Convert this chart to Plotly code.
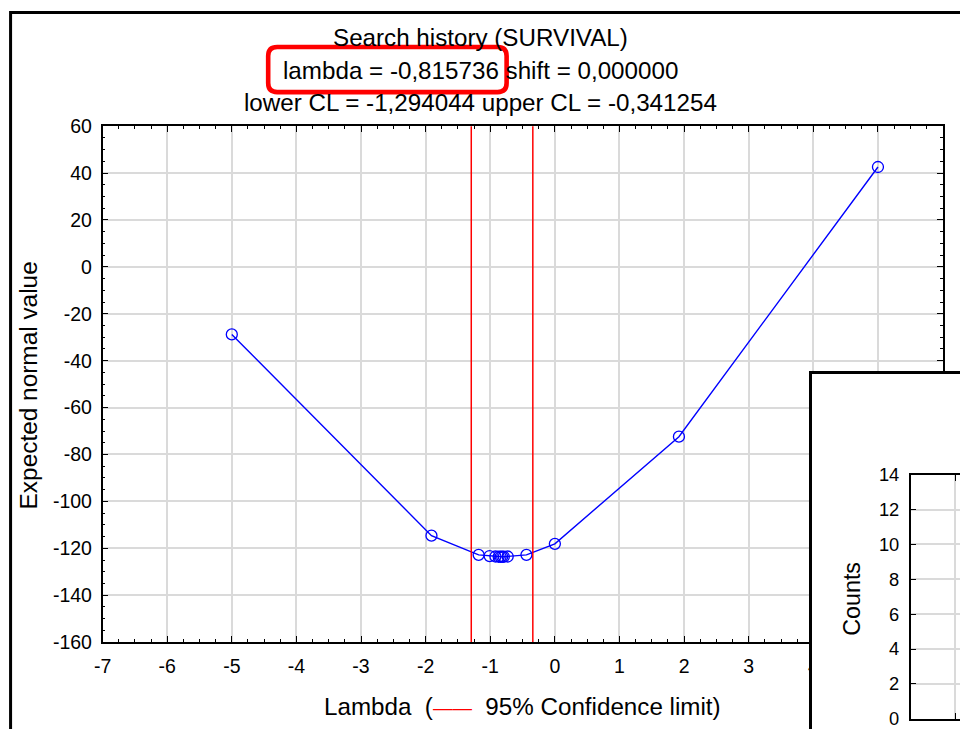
import plotly.graph_objects as go

# ---- data ----
lambdas = [-5.0, -1.91, -1.18, -1.01, -0.92, -0.87, -0.84, -0.815736, -0.79, -0.73, -0.44, 0.0, 1.92, 5.0]
expected_normal = [-28.8, -114.6, -122.8, -123.3, -123.5, -123.6, -123.6, -123.6, -123.6, -123.5, -122.8, -118.1, -72.4, 42.6]
lower_cl = -1.294044
upper_cl = -0.341254
title_lines = ["Search history (SURVIVAL)",
               "lambda = -0,815736 shift = 0,000000",
               "lower CL = -1,294044 upper CL = -0,341254"]
x_ticks = list(range(-7, 7))
y_ticks = list(range(-160, 61, 20))
inset_ticks = list(range(0, 15, 2))

# figure size and screen-to-figure compensation
FW, FH = 975, 750
SX, SY, AX, AY = 0.988, 0.969, 8.2, 11.0
FONT = "Liberation Sans, Arial, sans-serif"


def PX(X):
    return (X - AX) / SX / FW


def PY(Y):
    return 1 - (Y - AY) / SY / FH


fig = go.Figure()

fig.add_trace(go.Scatter(
    x=lambdas, y=expected_normal, mode="lines+markers",
    line=dict(color="#0000ff", width=1.4),
    marker=dict(symbol="circle-open", size=11, color="#0000ff", line=dict(width=1.3)),
    xaxis="x", yaxis="y", showlegend=False, hoverinfo="x+y"))

# blank window (inset frame)
fig.add_trace(go.Scatter(x=[], y=[], xaxis="x2", yaxis="y2", showlegend=False))
# inset plot
fig.add_trace(go.Scatter(x=[], y=[], xaxis="x3", yaxis="y3", showlegend=False))

axis_common = dict(showline=True, linecolor="black", linewidth=1.5, mirror="allticks",
                   ticks="inside", tickcolor="black", ticklen=6, tickwidth=1.3,
                   gridcolor="#dadada", gridwidth=1.6, zeroline=False)

fig.update_layout(
    width=FW, height=FH,
    margin=dict(l=0, r=0, t=0, b=0),
    paper_bgcolor="white", plot_bgcolor="white",
    showlegend=False,
    xaxis=dict(domain=[PX(102), PX(944)], anchor="y", range=[-7, 6],
               tickvals=x_ticks, ticktext=[str(v) for v in x_ticks],
               minor=dict(ticks="inside", ticklen=3, dtick=0.25, tickcolor="black", showgrid=False),
               ticklabelstandoff=6, tickfont=dict(family=FONT, size=19.5, color="black"),
               **axis_common),
    yaxis=dict(domain=[PY(641), PY(126)], anchor="x", range=[-160, 60],
               tickvals=y_ticks, ticktext=[str(v) for v in y_ticks],
               minor=dict(ticks="inside", ticklen=3, dtick=5, tickcolor="black", showgrid=False),
               ticklabelstandoff=5, tickfont=dict(family=FONT, size=19.5, color="black"),
               **axis_common),
    xaxis2=dict(domain=[PX(813), 1], anchor="y2", range=[0, 1], side="top",
                showline=True, linecolor="black", linewidth=3, mirror=False,
                showgrid=False, zeroline=False, showticklabels=False, ticks=""),
    yaxis2=dict(domain=[0, PY(373)], anchor="x2", range=[0, 1], side="left",
                showline=True, linecolor="black", linewidth=3, mirror=False,
                showgrid=False, zeroline=False, showticklabels=False, ticks=""),
    xaxis3=dict(domain=[PX(912), 1], anchor="y3", range=[0, 1],
                tickvals=[0.754], showticklabels=False, **axis_common),
    yaxis3=dict(domain=[PY(717.5), PY(474)], anchor="x3", range=[0, 14],
                tickvals=inset_ticks, ticktext=[str(v) for v in inset_ticks],
                ticklabelstandoff=6, tickfont=dict(family=FONT, size=18.3, color="black"),
                **axis_common),
)

# confidence limit lines
for v in (lower_cl, upper_cl):
    fig.add_shape(type="line", xref="x", yref="y domain", x0=v, x1=v, y0=0, y1=1,
                  line=dict(color="#ff0000", width=1.5))

# outer window border
fig.add_shape(type="rect", xref="paper", yref="paper",
              x0=1.6 / FW, x1=1.2, y0=-0.2, y1=1 - 1.6 / FH, line=dict(color="black", width=3),
              fillcolor="rgba(0,0,0,0)", layer="below")

# red rounded highlight box
x0, x1, y0, y1, r = 268, 507, 47, 92, 9
path = (f"M {PX(x0 + r)},{PY(y0)} H {PX(x1 - r)} Q {PX(x1)},{PY(y0)} {PX(x1)},{PY(y0 + r)} "
        f"V {PY(y1 - r)} Q {PX(x1)},{PY(y1)} {PX(x1 - r)},{PY(y1)} "
        f"H {PX(x0 + r)} Q {PX(x0)},{PY(y1)} {PX(x0)},{PY(y1 - r)} "
        f"V {PY(y0 + r)} Q {PX(x0)},{PY(y0)} {PX(x0 + r)},{PY(y0)} Z")
fig.add_shape(type="path", xref="paper", yref="paper", path=path,
              line=dict(color="#ff0000", width=4.6), layer="above")

# title lines
for txt, yc in zip(title_lines, (37, 70, 102)):
    fig.add_annotation(text=txt, xref="paper", yref="paper", x=PX(481), y=PY(yc),
                       showarrow=False, xanchor="center", yanchor="middle",
                       font=dict(family=FONT, size=24.2, color="black"))

# axis titles
fig.add_annotation(
    text="Lambda  (<span style='color:#ff0000;font-size:19.5px'>——</span>  95% Confidence limit)",
    xref="paper", yref="paper", x=PX(523), y=PY(705), showarrow=False,
    xanchor="center", yanchor="middle", font=dict(family=FONT, size=24.2, color="black"))
fig.add_annotation(text="Expected normal value", xref="paper", yref="paper", x=PX(28), y=PY(385),
                   showarrow=False, textangle=-90, xanchor="center", yanchor="middle",
                   font=dict(family=FONT, size=24.4, color="black"))
fig.add_annotation(text="Counts", xref="paper", yref="paper", x=PX(853), y=PY(598),
                   showarrow=False, textangle=-90, xanchor="center", yanchor="middle",
                   font=dict(family=FONT, size=23.3, color="black"))

fig.write_html("out.html", config={"displayModeBar": False},
               post_script="document.body.style.margin='0';document.body.style.overflow='hidden';")
